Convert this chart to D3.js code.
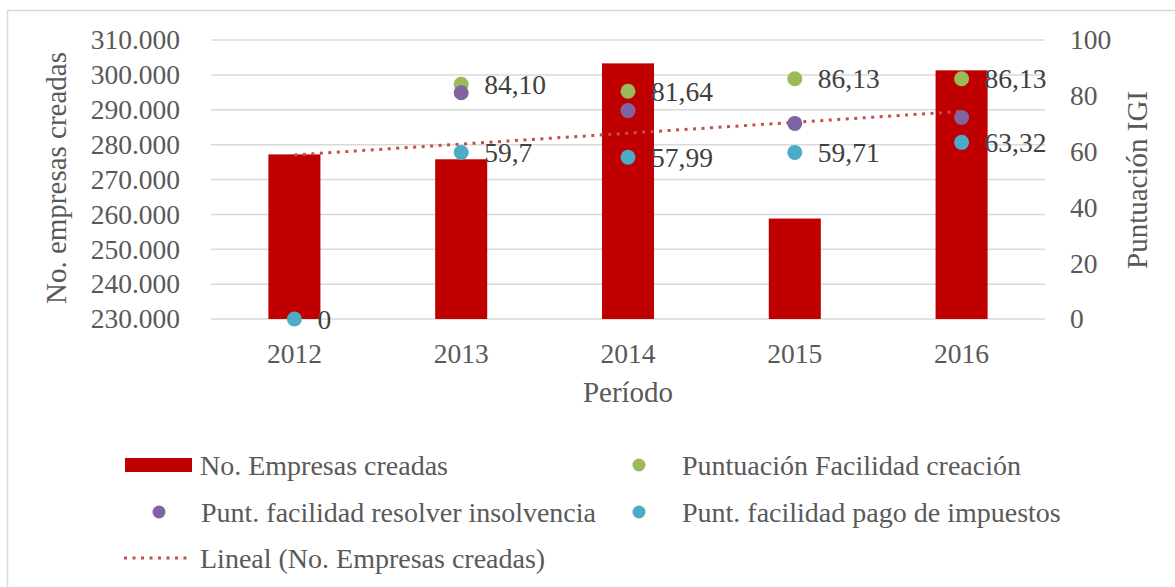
<!DOCTYPE html>
<html lang="es">
<head>
    <meta charset="UTF-8">
    <title>Empresas creadas y puntuación IGI</title>
    <style>
        body { margin: 0; background: #fff; }
        text { font-family: "Liberation Serif", serif; }
        .tick-label { font-size: 27.5px; fill: #595959; }
        .axis-title { font-size: 29px; fill: #595959; }
        .data-label { font-size: 27.5px; fill: #404040; }
        .legend text { font-size: 28px; fill: #595959; }
    </style>
    <script src="https://d3js.org/d3.v7.min.js"></script>
</head>
<body>
    <div id="chart"></div>
    <script>
        // data
        const years = ["2012", "2013", "2014", "2015", "2016"];
        const empresas = [277200, 275800, 303300, 258800, 301300];
        const facCreacion = [null, 84.10, 81.64, 86.13, 86.13];
        const facInsolvencia = [null, 81.1, 74.7, 70.1, 72.2];
        const facImpuestos = [0, 59.7, 57.99, 59.71, 63.32];
        const creacionLabels = [null, "84,10", "81,64", "86,13", "86,13"];
        const impuestosLabels = ["0", "59,7", "57,99", "59,71", "63,32"];
        const leftTicks = [230000, 240000, 250000, 260000, 270000, 280000, 290000, 300000, 310000];
        const rightTicks = [0, 20, 40, 60, 80, 100];

        const width = 1175;
        const height = 587;
        const plot = { left: 211, right: 1045, top: 40, bottom: 319 };

        const colors = {
            bar: "#c00000",
            trend: "#c0504d",
            creacion: "#9bbb59",
            insolvencia: "#8064a2",
            impuestos: "#4bacc6"
        };

        const svg = d3.select("#chart").append("svg")
            .attr("width", width)
            .attr("height", height);

        // chart border
        svg.append("rect")
            .attr("x", 7.5)
            .attr("y", 10.5)
            .attr("width", width)
            .attr("height", height)
            .attr("fill", "none")
            .attr("stroke", "#d9d9d9")
            .attr("stroke-width", 1.5);

        const x = d3.scaleBand().domain(years).range([plot.left, plot.right]);
        const yL = d3.scaleLinear().domain([230000, 310000]).range([plot.bottom, plot.top]);
        const yR = d3.scaleLinear().domain([0, 100]).range([plot.bottom, plot.top]);
        const cx = d => x(d) + x.bandwidth() / 2;

        const es = d3.formatLocale({ decimal: ",", thousands: ".", grouping: [3], currency: ["", ""] });
        const fmt = es.format(",.0f");

        // gridlines
        svg.append("g")
            .selectAll("line")
            .data(leftTicks)
            .join("line")
            .attr("x1", plot.left)
            .attr("x2", plot.right)
            .attr("y1", d => yL(d))
            .attr("y2", d => yL(d))
            .attr("stroke", "#d9d9d9")
            .attr("stroke-width", 1.5);

        // left axis (no line)
        const leftAxis = svg.append("g")
            .attr("transform", `translate(${plot.left},0)`)
            .call(d3.axisLeft(yL).tickValues(leftTicks).tickFormat(fmt).tickSize(0).tickPadding(31));
        leftAxis.select(".domain").remove();
        leftAxis.selectAll("text").attr("class", "tick-label").attr("font-size", null).attr("font-family", null);

        // right axis
        const rightAxis = svg.append("g")
            .attr("transform", `translate(${plot.right},0)`)
            .call(d3.axisRight(yR).tickValues(rightTicks).tickSize(0).tickPadding(25));
        rightAxis.select(".domain").remove();
        rightAxis.selectAll("text").attr("class", "tick-label").attr("font-size", null).attr("font-family", null);

        // bottom axis
        const bottomAxis = svg.append("g")
            .attr("transform", `translate(0,${plot.bottom})`)
            .call(d3.axisBottom(x).tickSize(0).tickPadding(24));
        bottomAxis.select(".domain").remove();
        bottomAxis.selectAll("text").attr("class", "tick-label").attr("font-size", null).attr("font-family", null);

        // axis titles
        svg.append("text")
            .attr("class", "axis-title")
            .attr("transform", "translate(66,178) rotate(-90)")
            .attr("text-anchor", "middle")
            .text("No. empresas creadas");

        svg.append("text")
            .attr("class", "axis-title")
            .attr("transform", "translate(1147,180) rotate(-90)")
            .attr("text-anchor", "middle")
            .text("Puntuación IGI");

        svg.append("text")
            .attr("class", "axis-title")
            .attr("x", (plot.left + plot.right) / 2)
            .attr("y", 402)
            .attr("text-anchor", "middle")
            .text("Período");

        // bars
        const barW = x.bandwidth() * 0.312;
        svg.append("g")
            .selectAll("rect")
            .data(years)
            .join("rect")
            .attr("x", d => cx(d) - barW / 2)
            .attr("width", barW)
            .attr("y", (d, i) => yL(empresas[i]))
            .attr("height", (d, i) => yL(230000) - yL(empresas[i]))
            .attr("fill", colors.bar);

        // linear trend (least squares over the bars)
        const idx = years.map((d, i) => i + 1);
        const mx = d3.mean(idx);
        const my = d3.mean(empresas);
        const slope = d3.sum(idx, (v, i) => (v - mx) * (empresas[i] - my)) / d3.sum(idx, v => (v - mx) ** 2);
        const intercept = my - slope * mx;
        const trend = [years[0], years[years.length - 1]].map(d => {
            const i = years.indexOf(d) + 1;
            return [cx(d), yL(intercept + slope * i)];
        });
        svg.append("path")
            .attr("d", d3.line()(trend))
            .attr("fill", "none")
            .attr("stroke", colors.trend)
            .attr("stroke-width", 3)
            .attr("stroke-dasharray", "3,5.5");

        // scatter series
        const drawPoints = (values, color) => {
            svg.append("g")
                .selectAll("circle")
                .data(years.map((d, i) => ({ year: d, v: values[i] })).filter(d => d.v !== null))
                .join("circle")
                .attr("cx", d => cx(d.year))
                .attr("cy", d => yR(d.v))
                .attr("r", 7.5)
                .attr("fill", color);
        };
        drawPoints(facCreacion, colors.creacion);
        drawPoints(facInsolvencia, colors.insolvencia);
        drawPoints(facImpuestos, colors.impuestos);

        const drawLabels = (values, labels) => {
            svg.append("g")
                .selectAll("text")
                .data(years.map((d, i) => ({ year: d, v: values[i], t: labels[i] })).filter(d => d.t !== null))
                .join("text")
                .attr("class", "data-label")
                .attr("x", d => cx(d.year) + 23)
                .attr("y", d => yR(d.v))
                .attr("dy", "0.35em")
                .text(d => d.t);
        };
        drawLabels(facCreacion, creacionLabels);
        drawLabels(facImpuestos, impuestosLabels);

        // legend
        const legend = svg.append("g").attr("class", "legend");
        const rows = [465, 512, 558];

        legend.append("rect")
            .attr("x", 125).attr("y", rows[0] - 7)
            .attr("width", 67).attr("height", 14)
            .attr("fill", colors.bar);
        legend.append("text").attr("x", 200).attr("y", rows[0]).attr("dy", "0.35em").text("No. Empresas creadas");

        legend.append("circle").attr("cx", 639).attr("cy", rows[0]).attr("r", 6.5).attr("fill", colors.creacion);
        legend.append("text").attr("x", 682).attr("y", rows[0]).attr("dy", "0.35em").text("Puntuación Facilidad creación");

        legend.append("circle").attr("cx", 159).attr("cy", rows[1]).attr("r", 6.5).attr("fill", colors.insolvencia);
        legend.append("text").attr("x", 201).attr("y", rows[1]).attr("dy", "0.35em").text("Punt. facilidad resolver insolvencia");

        legend.append("circle").attr("cx", 639).attr("cy", rows[1]).attr("r", 6.5).attr("fill", colors.impuestos);
        legend.append("text").attr("x", 682).attr("y", rows[1]).attr("dy", "0.35em").text("Punt. facilidad pago de impuestos");

        legend.append("line")
            .attr("x1", 124).attr("x2", 190)
            .attr("y1", rows[2]).attr("y2", rows[2])
            .attr("stroke", colors.trend)
            .attr("stroke-width", 3)
            .attr("stroke-dasharray", "3,5.5");
        legend.append("text").attr("x", 200).attr("y", rows[2]).attr("dy", "0.35em").text("Lineal (No. Empresas creadas)");
    </script>
</body>
</html>
